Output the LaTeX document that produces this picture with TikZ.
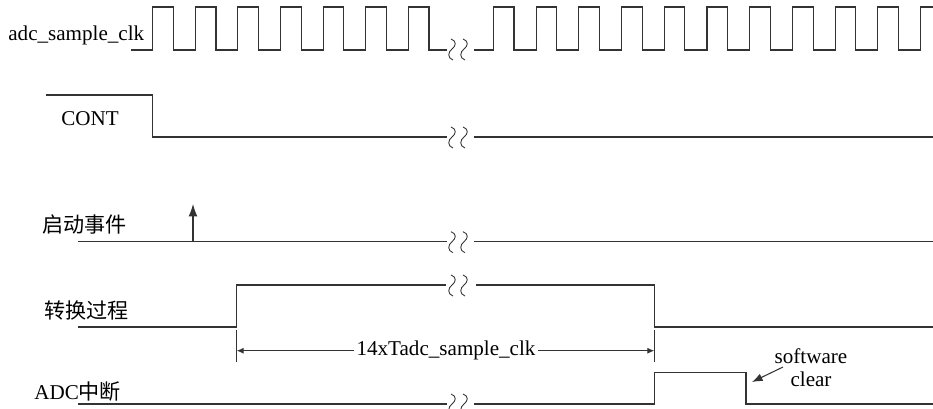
\documentclass[tikz,border=0pt]{standalone}
\usepackage{fontspec}
\usetikzlibrary{arrows.meta}
\setmainfont{Liberation Serif}
\newfontfamily\cjk{Noto Sans CJK SC}
\tikzset{
  wave/.style={draw=black!80, line width=0.6pt},
  lbl/.style={inner sep=0pt},
  brk/.pic={
    \draw[black!80, line width=0.5pt] (4,-10) .. controls (10,-8) and (9,-3) .. (5,0) .. controls (1,3) and (0,9) .. (6,11);
    \draw[black!80, line width=0.5pt] (16,-10) .. controls (22,-8) and (21,-3) .. (17,0) .. controls (13,3) and (12,9) .. (18,11);
  }
}
\begin{document}
\begin{tikzpicture}[x=0.02cm, y=-0.02cm, >={Latex[length=4pt,width=3.5pt]}, font=\fontsize{12}{13}\selectfont]
\useasboundingbox (0,0) rectangle (933,409);
\node[lbl, anchor=base west] (clk) at (8,40) {adc\_sample\_clk};
\node[lbl, anchor=base west] (cont) at (61,125) {CONT};
\node[lbl, anchor=west] (start) at (42,225) {\cjk 启动事件};
\node[lbl, anchor=west] (conv) at (44,310) {\cjk 转换过程};
\node[lbl, anchor=west] (irq) at (34,392) {ADC{\cjk 中断}};
\draw[wave] (131,50) foreach \k in {0,...,6}{ -- (152.7+42.6*\k,50) -- ++(0,-43) -- ++(20.7,0) -- ++(0,43)} -- (447,50);
\draw[wave] (474,50) foreach \k in {0,...,9}{ -- (493.3+42.74*\k,50) -- ++(0,-43) -- ++(20.7,0) -- ++(0,43)} -- (920.7,50) -- (920.7,7) -- (933,7);
\pic at (447,49) {brk};
\draw[wave] (46,95) -- (152.7,95) -- (152.7,137) -- (447,137);
\draw[wave] (474,137) -- (933,137);
\pic at (447,137) {brk};
\draw[wave] (78,241.7) -- (447,241.7);
\draw[wave] (474,241.7) -- (933,241.7);
\pic at (447,241.7) {brk};
\draw[wave, -{Latex[length=7pt,width=5pt]}] (193,241.7) -- (193,204);
\draw[wave] (78,327) -- (236.7,327) -- (236.7,285) -- (446,285);
\draw[wave] (476,285) -- (654.3,285) -- (654.3,327) -- (933,327);
\pic at (447,285) {brk};
\draw[wave] (236.7,330) -- (236.7,362);
\draw[wave] (654.3,330) -- (654.3,362);
\node[inner xsep=1pt, inner ysep=0pt] (dur) at (446,350.7) {14xTadc\_sample\_clk};
\coordinate (tl) at (236.7,350.7);
\coordinate (tr) at (654.3,350.7);
\draw[wave, ->] (dur) -- (tl);
\draw[wave, ->] (dur) -- (tr);
\draw[wave] (78,404) -- (447,404);
\draw[wave] (474,404) -- (654.3,404) -- (654.3,372.3) -- (746,372.3) -- (746,404) -- (933,404);
\pic at (447,404) {brk};
\node[lbl, align=center] (clr) at (811,368) {software\\clear};
\coordinate (clrtip) at (752,382);
\draw[wave, -{Latex[length=6pt,width=4.5pt]}] (783,367) -- (clrtip);
\end{tikzpicture}
\end{document}
